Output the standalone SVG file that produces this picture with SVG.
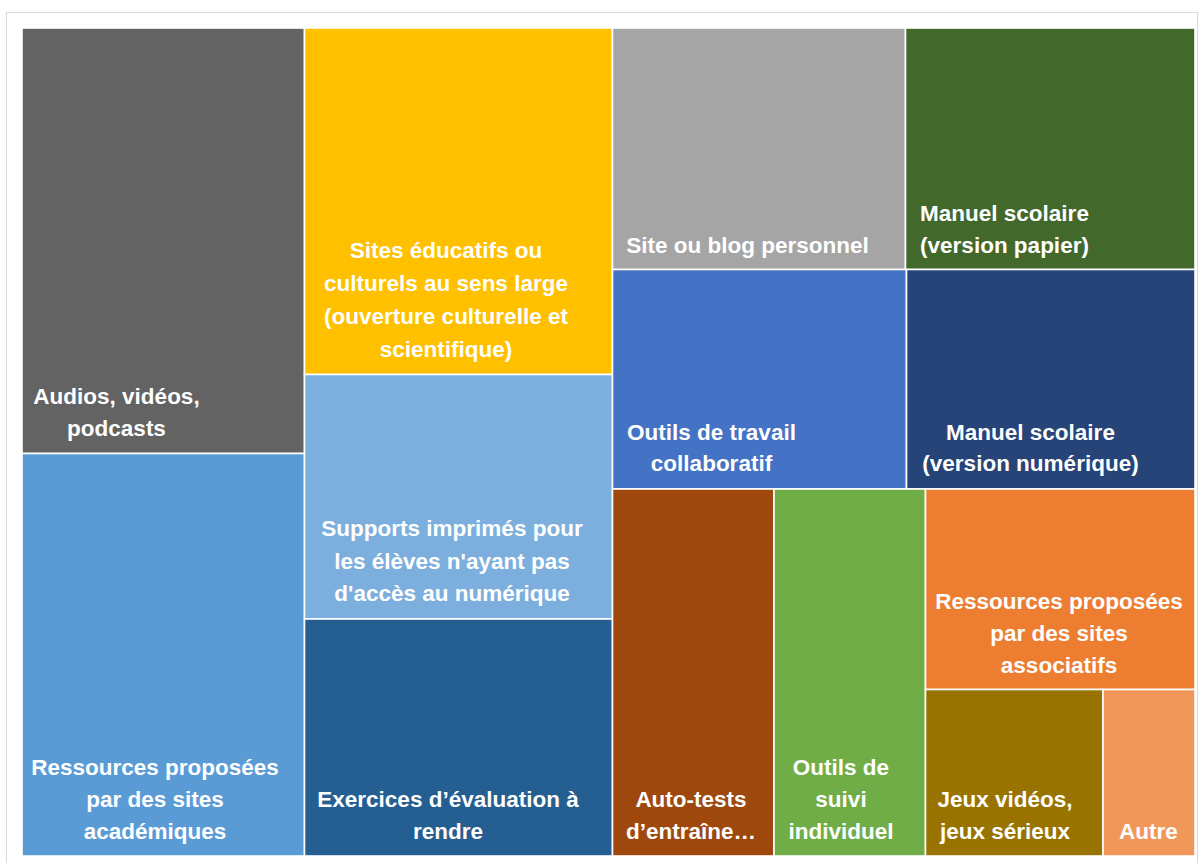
<svg xmlns="http://www.w3.org/2000/svg" width="1198" height="863" viewBox="0 0 1198 863">
<style>
.t{stroke:#fff;stroke-width:1.6}
.l{font-family:"Liberation Sans",Arial,sans-serif;font-weight:bold;font-size:22.5px;fill:#fff;text-anchor:middle}
</style>
<rect x="0" y="0" width="1198" height="863" fill="#fff"/>
<rect x="6.5" y="12.5" width="1191" height="870" fill="none" stroke="#d9d9d9" stroke-width="1"/>
<g id="audios"><rect class="t" x="22" y="28" width="282.5" height="425.5" fill="#636363"/>
<text class="l" x="116.5"><tspan x="116.5" y="404">Audios, vidéos,</tspan><tspan x="116.5" y="436">podcasts</tspan></text></g>
<g id="ressources-academiques"><rect class="t" x="22" y="453.5" width="282.5" height="402.5" fill="#5b9bd5"/>
<text class="l"><tspan x="155" y="775">Ressources proposées</tspan><tspan x="155" y="807">par des sites</tspan><tspan x="155" y="839">académiques</tspan></text></g>
<g id="sites-educatifs"><rect class="t" x="304.5" y="28" width="308" height="346.5" fill="#ffc000"/>
<text class="l"><tspan x="446" y="258">Sites éducatifs ou</tspan><tspan x="446" y="291">culturels au sens large</tspan><tspan x="446" y="324">(ouverture culturelle et</tspan><tspan x="446" y="357">scientifique)</tspan></text></g>
<g id="supports-imprimes"><rect class="t" x="304.5" y="374.5" width="308" height="244.5" fill="#7cafdd"/>
<text class="l"><tspan x="452" y="536">Supports imprimés pour</tspan><tspan x="452" y="569">les élèves n'ayant pas</tspan><tspan x="452" y="601">d'accès au numérique</tspan></text></g>
<g id="exercices"><rect class="t" x="304.5" y="619" width="308" height="237" fill="#255e91"/>
<text class="l"><tspan x="448" y="807">Exercices d’évaluation à</tspan><tspan x="448" y="839">rendre</tspan></text></g>
<g id="site-blog"><rect class="t" x="612.5" y="28" width="293" height="241.5" fill="#a5a5a5"/>
<text class="l" x="747.5" y="252.5">Site ou blog personnel</text></g>
<g id="manuel-papier"><rect class="t" x="905.5" y="28" width="289.5" height="241.5" fill="#43682b"/>
<text class="l"><tspan x="1004.5" y="220.5">Manuel scolaire</tspan><tspan x="1004.5" y="252.5">(version papier)</tspan></text></g>
<g id="outils-collaboratif"><rect class="t" x="612.5" y="269.5" width="294" height="219.5" fill="#4472c4"/>
<text class="l"><tspan x="711.5" y="440">Outils de travail</tspan><tspan x="711.5" y="471">collaboratif</tspan></text></g>
<g id="manuel-numerique"><rect class="t" x="906.5" y="269.5" width="288.5" height="219.5" fill="#264478"/>
<text class="l"><tspan x="1030.5" y="440">Manuel scolaire</tspan><tspan x="1030.5" y="471">(version numérique)</tspan></text></g>
<g id="auto-tests"><rect class="t" x="612.5" y="489" width="161.5" height="367" fill="#9e480e"/>
<text class="l"><tspan x="691" y="807">Auto-tests</tspan><tspan x="691" y="839">d’entraîne…</tspan></text></g>
<g id="outils-suivi"><rect class="t" x="774" y="489" width="151.5" height="367" fill="#70ad47"/>
<text class="l"><tspan x="841" y="775">Outils de</tspan><tspan x="841" y="807">suivi</tspan><tspan x="841" y="839">individuel</tspan></text></g>
<g id="ressources-associatifs"><rect class="t" x="925.5" y="489" width="269.5" height="200.5" fill="#ed7d31"/>
<text class="l"><tspan x="1059" y="609">Ressources proposées</tspan><tspan x="1059" y="641">par des sites</tspan><tspan x="1059" y="673">associatifs</tspan></text></g>
<g id="jeux"><rect class="t" x="925.5" y="689.5" width="177.5" height="166.5" fill="#997300"/>
<text class="l"><tspan x="1005" y="807">Jeux vidéos,</tspan><tspan x="1005" y="839">jeux sérieux</tspan></text></g>
<g id="autre"><rect class="t" x="1103" y="689.5" width="92" height="166.5" fill="#f1975a"/>
<text class="l" x="1148.5" y="839">Autre</text></g>
<g id="connectors"></g>
</svg>
